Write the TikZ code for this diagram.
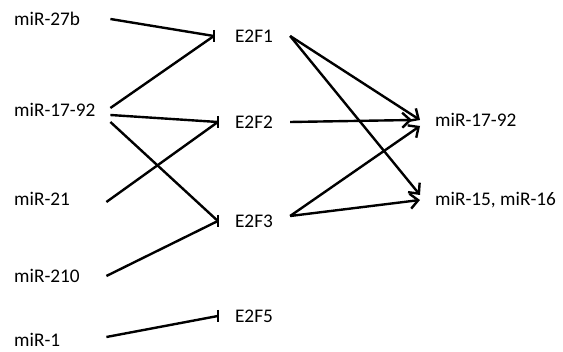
\documentclass[tikz,border=0pt]{standalone}
\usepackage{fontspec}
\setmainfont{Carlito}
\usepackage{tikz}
\usetikzlibrary{arrows.meta}
\tikzstyle{mir}=[anchor=west, inner sep=0pt, text width=96pt, align=left, font=\fontsize{19.3}{22}\selectfont]
\tikzstyle{factor}=[inner xsep=17pt, inner ysep=0pt, font=\fontsize{19.3}{22}\selectfont]
\tikzstyle{target}=[anchor=west, inner xsep=15pt, inner ysep=0pt, font=\fontsize{19.3}{22}\selectfont]
\tikzstyle{inhibit}=[-, draw=black, line width=2.4pt]
\tikzstyle{stopbar}=[-, draw=black, line width=2.4pt]
\tikzstyle{activate}=[-{Straight Barb[length=8pt,width=15pt]}, draw=black, line width=2.4pt]

\begin{document}
\begin{tikzpicture}[x=1pt, y=-1pt]
            \useasboundingbox (0, 0) rectangle (563, 352);

            \node [style=mir] (m27b) at (14, 19) {miR-27b};
            \node [style=mir] (m1792) at (14, 110) {miR-17-92};
            \node [style=mir] (m21) at (14, 199) {miR-21};
            \node [style=mir] (m210) at (14, 276) {miR-210};
            \node [style=mir] (m1) at (14, 340) {miR-1};

            \node [style=factor] (E2F1) at (254, 36) {E2F1};
            \node [style=factor] (E2F2) at (254, 122) {E2F2};
            \node [style=factor] (E2F3) at (254, 221) {E2F3};
            \node [style=factor] (E2F5) at (254, 316) {E2F5};

            \node [style=target] (t1792) at (420, 120) {miR-17-92};
            \node [style=target] (t1516) at (420, 200) {miR-15, miR-16};

            % inhibition lines, then one bar per factor
            \draw [style=inhibit] (m27b.east) to ([xshift=-4pt]E2F1.west);
            \draw [style=inhibit] ([yshift=2pt]m1792.east) to ([xshift=-4pt]E2F1.west);
            \draw [style=inhibit] ([yshift=-5pt]m1792.east) to (E2F2.west);
            \draw [style=inhibit] ([yshift=-12pt]m1792.east) to (E2F3.west);
            \draw [style=inhibit] ([xshift=-4pt, yshift=-3pt]m21.east) to (E2F2.west);
            \draw [style=inhibit] ([xshift=-4pt]m210.east) to (E2F3.west);
            \draw [style=inhibit] ([xshift=-4pt, yshift=3pt]m1.east) to (E2F5.west);

            \draw [style=stopbar] ([xshift=-4pt, yshift=6pt]E2F1.west) to ([xshift=-4pt, yshift=-6pt]E2F1.west);
            \draw [style=stopbar] ([yshift=6pt]E2F2.west) to ([yshift=-6pt]E2F2.west);
            \draw [style=stopbar] ([yshift=6pt]E2F3.west) to ([yshift=-6pt]E2F3.west);
            \draw [style=stopbar] ([yshift=6pt]E2F5.west) to ([yshift=-6pt]E2F5.west);

            \draw [style=activate] (E2F1.east) to (t1792.west);
            \draw [style=activate] (E2F1.east) to ([yshift=5pt]t1516.west);
            \draw [style=activate] (E2F2.east) to ([xshift=-8pt]t1792.west);
            \draw [style=activate] ([yshift=5pt]E2F3.east) to ([yshift=-6pt]t1792.west);
            \draw [style=activate] ([yshift=5pt]E2F3.east) to (t1516.west);
        \end{tikzpicture}
\end{document}
